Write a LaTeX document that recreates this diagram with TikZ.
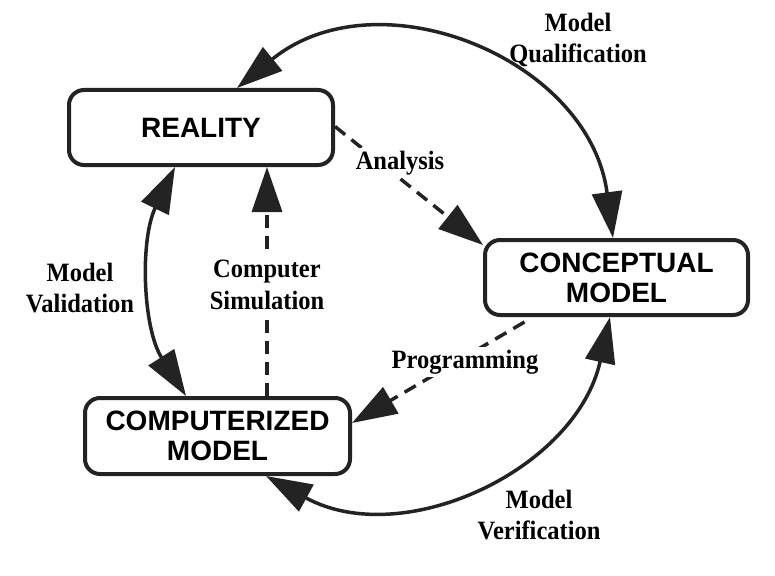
\documentclass[tikz,border=0pt]{standalone}
\usepackage{fontspec}
\setmainfont{Liberation Serif}
\setsansfont{Liberation Sans}
\usetikzlibrary{arrows.meta}
\definecolor{ink}{RGB}{35,35,35}
\begin{document}
\begin{tikzpicture}[x=1pt,y=-1pt,
  box/.style={draw=ink, line width=4pt, rounded corners=15pt, fill=white, align=center,
    font=\sffamily\bfseries\fontsize{28}{30}\selectfont, inner sep=0pt},
  lbl/.style={align=center, font=\rmfamily\bfseries\fontsize{24.5}{29}\selectfont, inner sep=2pt, yscale=1.08, transform shape},
  cover/.style={lbl, fill=white, inner sep=3pt},
  ringarrow/.style={draw=ink, line width=3.5pt, {Triangle[length=46pt,width=30pt]}-{Triangle[length=46pt,width=30pt]}},
  dasharrow/.style={draw=ink, line width=3.5pt, dash pattern=on 13pt off 8pt, -{Triangle[length=45pt,width=30pt]}},
]
\useasboundingbox (0,0) rectangle (775,575);

% boxes
\node[box, minimum width=264pt, minimum height=75pt] (real) at (201,127.5) {REALITY};
\node[box, minimum width=263pt, minimum height=75pt] (conc) at (616.5,277.5) {CONCEPTUAL\\MODEL};
\node[box, minimum width=265pt, minimum height=76pt] (comp) at (217.5,436) {COMPUTERIZED\\MODEL};

% curved double arrows
\draw[ringarrow] ([xshift=36pt]real.north) .. controls +(140.7,-114.8) and +(-23.7,-180) .. ([xshift=-3.5pt]conc.north);
\draw[ringarrow] ([xshift=-26pt]real.south) .. controls +(-35.2,72.7) and +(-43.4,-68.1) .. ([xshift=-31.5pt]comp.north);
\draw[ringarrow] ([xshift=48.5pt]comp.south) .. controls +(137,75) and +(-33.8,152.5) .. ([xshift=-6.5pt]conc.south);

% dashed arrows
\draw[dasharrow] ([yshift=1pt]real.east) -- ([yshift=-7pt]conc.north west);
\draw[dasharrow] ([xshift=-92pt,yshift=-5pt]conc.south) -- ([yshift=13pt]comp.east);
\draw[dasharrow] ([xshift=49.5pt]comp.north) -- ([xshift=66pt]real.south);

% labels
\node[cover] (lanalysis) at (400,163) {Analysis};
\node[cover] (lprog) at (465,362) {Programming};
\node[cover] (lsim) at (267,285) {Computer\\Simulation};
\node[lbl] (lqual) at (578,40) {Model\\Qualification};
\node[lbl] (lvalid) at (80,288) {Model\\Validation};
\node[lbl] (lverif) at (539,515) {Model\\Verification};
\end{tikzpicture}
\end{document}
